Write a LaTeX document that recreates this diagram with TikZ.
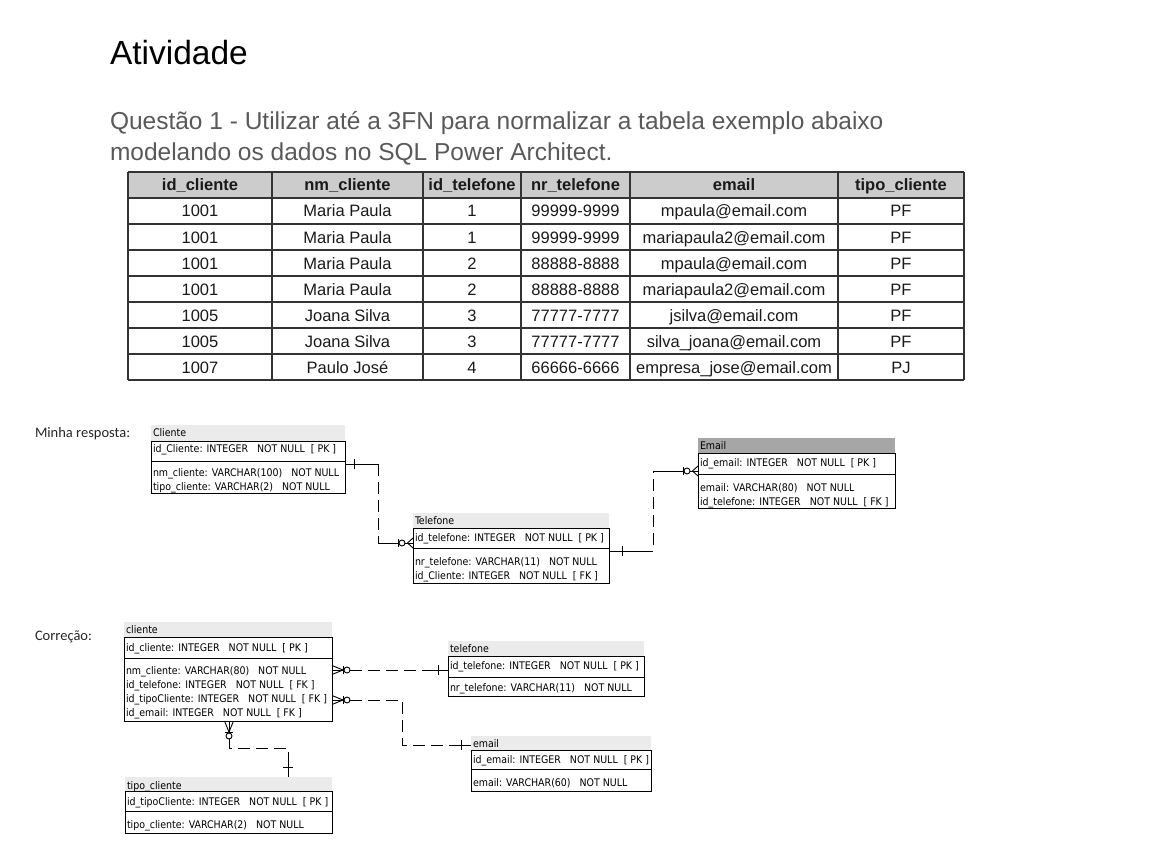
\documentclass[tikz,border=0pt]{standalone}
\usepackage{fontspec}
\setmainfont{Liberation Sans}
\newfontfamily\carlito{Carlito}
\newfontfamily\erfont{DejaVu Sans Condensed}
\usetikzlibrary{calc}
\definecolor{qgray}{HTML}{595959}
\definecolor{hdrgray}{HTML}{CCCCCC}
\definecolor{bandgray}{HTML}{EBEBEB}
\definecolor{bandsel}{HTML}{A6A6A6}
\begin{document}
\begin{tikzpicture}[x=1pt,y=-1pt,
  txt/.style={inner sep=0pt, outer sep=0pt, anchor=west},
  erf/.style={inner sep=0pt, outer sep=0pt, anchor=base west, yshift=-4pt, font=\erfont\fontsize{10.5}{12}\selectfont},
  erbox/.style={draw, line width=0.9pt, inner sep=0pt, outer sep=0pt, anchor=north west},
  rel/.style={line width=0.9pt},
  reld/.style={line width=0.9pt, dash pattern=on 12pt off 6pt},
  tline/.style={line width=1.1pt, black!80},
  cell/.style={inner sep=0pt, anchor=base, yshift=-6pt, font=\fontsize{16.5}{18}\selectfont, text=black!90},
  hcell/.style={cell, font=\fontsize{16.5}{18}\selectfont\bfseries},
  lbl/.style={txt, font=\carlito\fontsize{14.5}{16}\selectfont, text=black!85},
  zmA/.pic={
    \draw[rel] (0,-5) -- (-5.5,0) -- (0,5);
    \draw[rel] (0,0) -- (-16,0);
    \draw[rel,fill=white] (-11,0) circle[radius=3pt];
    \draw[rel] (-14.5,-4) -- (-14.5,4);
  },
  zmB/.pic={
    \draw[rel] (0,-4.5) -- (-11,0) -- (0,4.5);
    \draw[rel] (0,0) -- (-18,0);
    \draw[rel] (-11,-4) -- (-11,4);
    \draw[rel,fill=white] (-15,0) circle[radius=3pt];
  },
  tk/.pic={\draw[rel] (0,-5) -- (0,5);}
]
\useasboundingbox (0,0) rectangle (1152,856);

% ---- title and question
\node[txt, anchor=base west, font=\fontsize{33.5}{40}\selectfont] (title) at (110,65) {Atividade};
\node[txt, anchor=base west, font=\fontsize{24.5}{30}\selectfont, text=qgray] (q1) at (110,130) {Questão 1 - Utilizar até a 3FN para normalizar a tabela exemplo abaixo};
\node[txt, anchor=base west, font=\fontsize{24.5}{30}\selectfont, text=qgray] (q2) at (110,161) {modelando os dados no SQL Power Architect.};

% ---- table
\fill[hdrgray] (128,172) rectangle (964,198);
\foreach \y in {172,198,...,380} \draw[tline] (128,\y) -- (964,\y);
\foreach \x in {128,272,423,521,630,838,964} \draw[tline] (\x,172) -- (\x,380);
\node[hcell] (h1) at (200,185) {id\_cliente};
\node[hcell] (h2) at (347.5,185) {nm\_cliente};
\node[hcell] (h3) at (472,185) {id\_telefone};
\node[hcell] (h4) at (575.5,185) {nr\_telefone};
\node[hcell] (h5) at (734,185) {email};
\node[hcell] (h6) at (901,185) {tipo\_cliente};
\foreach \a/\b/\c/\d/\e/\f [count=\i] in {
  1001/Maria Paula/1/99999-9999/mpaula@email.com/PF,
  1001/Maria Paula/1/99999-9999/mariapaula2@email.com/PF,
  1001/Maria Paula/2/88888-8888/mpaula@email.com/PF,
  1001/Maria Paula/2/88888-8888/mariapaula2@email.com/PF,
  1005/Joana Silva/3/77777-7777/jsilva@email.com/PF,
  1005/Joana Silva/3/77777-7777/silva\_joana@email.com/PF,
  1007/Paulo José/4/66666-6666/empresa\_jose@email.com/PJ}{
  \pgfmathsetmacro{\yy}{185+26*\i}
  \node[cell] (r\i c1) at (200,\yy) {\a};
  \node[cell] (r\i c2) at (347.5,\yy) {\b};
  \node[cell] (r\i c3) at (472,\yy) {\c};
  \node[cell] (r\i c4) at (575.5,\yy) {\d};
  \node[cell] (r\i c5) at (734,\yy) {\e};
  \node[cell] (r\i c6) at (901,\yy) {\f};
}

% ---- labels
\node[lbl] (lresp) at (35,434) {Minha resposta:};
\node[lbl] (lcorr) at (35,637) {Correção:};

% ================= Minha resposta
% Cliente
\fill[bandgray] (151,425) rectangle (345,441);
\node[erf] (cliAt) at (153,432) {Cliente};
\node[erbox, minimum width=194pt, minimum height=52pt] (cliA) at (151,441) {};
\draw[rel] ($(cliA.north west)+(0,20)$) -- ($(cliA.north east)+(0,20)$);
\node[erf] (cliA1) at (153,448) {id\_Cliente: INTEGER\ \ \ NOT NULL\ \ [ PK ]};
\node[erf] (cliA2) at (153,472) {nm\_cliente: VARCHAR(100)\ \ \ NOT NULL};
\node[erf] (cliA3) at (153,486) {tipo\_cliente: VARCHAR(2)\ \ \ NOT NULL};

% Telefone
\fill[bandgray] (413,513) rectangle (609,528);
\node[erf] (telAt) at (415,520) {Telefone};
\node[erbox, minimum width=196pt, minimum height=55pt] (telA) at (413,528) {};
\draw[rel] ($(telA.north west)+(0,20)$) -- ($(telA.north east)+(0,20)$);
\node[erf] (telA1) at (415,537) {id\_telefone: INTEGER\ \ \ NOT NULL\ \ [ PK ]};
\node[erf] (telA2) at (415,561) {nr\_telefone: VARCHAR(11)\ \ \ NOT NULL};
\node[erf] (telA3) at (415,575) {id\_Cliente: INTEGER\ \ \ NOT NULL\ \ [ FK ]};

% Email
\fill[bandsel] (698,438) rectangle (895,453);
\node[erf] (emlAt) at (700,445) {Email};
\node[erbox, minimum width=197pt, minimum height=55pt] (emlA) at (698,453) {};
\draw[rel] ($(emlA.north west)+(0,21)$) -- ($(emlA.north east)+(0,21)$);
\node[erf] (emlA1) at (700,462) {id\_email: INTEGER\ \ \ NOT NULL\ \ [ PK ]};
\node[erf] (emlA2) at (700,487) {email: VARCHAR(80)\ \ \ NOT NULL};
\node[erf] (emlA3) at (700,501) {id\_telefone: INTEGER\ \ \ NOT NULL\ \ [ FK ]};

% Cliente -> Telefone
\coordinate (p1) at ($(cliA.north east)+(0,23)$);
\coordinate (qq1) at ($(telA.north west)+(0,15)$);
\coordinate (m1) at ($(p1)+(33,0)$);
\draw[rel] (p1) -- (m1);
\pic at ($(p1)+(9,0)$) {tk};
\draw[reld] (m1) -- (m1 |- qq1);
\draw[rel] (m1 |- qq1) -- (qq1);
\pic at (qq1) {zmA};

% Telefone -> Email
\coordinate (p2) at ($(telA.north east)+(0,23)$);
\coordinate (qq2) at ($(emlA.north west)+(0,18)$);
\draw[rel] (p2) -- ($(p2)+(32,0)$);
\pic at ($(p2)+(13,0)$) {tk};
\draw[reld] ($(p2)+(32,0)$) -- ($(p2)+(44,0)$) |- ($(qq2)+(-37,0)$);
\draw[rel] ($(qq2)+(-37,0)$) -- (qq2);
\pic at (qq2) {zmA};

% ================= Correção
% cliente
\fill[bandgray] (124,622) rectangle (332,637);
\node[erf] (cliBt) at (126,629) {cliente};
\node[erbox, minimum width=208pt, minimum height=84pt] (cliB) at (124,637) {};
\draw[rel] ($(cliB.north west)+(0,21)$) -- ($(cliB.north east)+(0,21)$);
\node[erf] (cliB1) at (126,647) {id\_cliente: INTEGER\ \ \ NOT NULL\ \ [ PK ]};
\node[erf] (cliB2) at (126,670) {nm\_cliente: VARCHAR(80)\ \ \ NOT NULL};
\node[erf] (cliB3) at (126,684) {id\_telefone: INTEGER\ \ \ NOT NULL\ \ [ FK ]};
\node[erf] (cliB4) at (126,698) {id\_tipoCliente: INTEGER\ \ \ NOT NULL\ \ [ FK ]};
\node[erf] (cliB5) at (126,712) {id\_email: INTEGER\ \ \ NOT NULL\ \ [ FK ]};

% telefone
\fill[bandgray] (448,641) rectangle (644,656);
\node[erf] (telBt) at (450,648) {telefone};
\node[erbox, minimum width=196pt, minimum height=40pt] (telB) at (448,656) {};
\draw[rel] ($(telB.north west)+(0,21)$) -- ($(telB.north east)+(0,21)$);
\node[erf] (telB1) at (450,665) {id\_telefone: INTEGER\ \ \ NOT NULL\ \ [ PK ]};
\node[erf] (telB2) at (450,687) {nr\_telefone: VARCHAR(11)\ \ \ NOT NULL};

% email
\fill[bandgray] (471,736) rectangle (651,750);
\node[erf] (emlBt) at (473,743) {email};
\node[erbox, minimum width=180pt, minimum height=41pt] (emlB) at (471,750) {};
\draw[rel] ($(emlB.north west)+(0,19)$) -- ($(emlB.north east)+(0,19)$);
\node[erf] (emlB1) at (473,759) {id\_email: INTEGER\ \ \ NOT NULL\ \ [ PK ]};
\node[erf] (emlB2) at (473,782) {email: VARCHAR(60)\ \ \ NOT NULL};

% tipo_cliente
\fill[bandgray] (125,777) rectangle (332,791);
\node[erf] (tipBt) at (127,785) {tipo\_cliente};
\node[erbox, minimum width=207pt, minimum height=42pt] (tipB) at (125,791) {};
\draw[rel] ($(tipB.north west)+(0,20)$) -- ($(tipB.north east)+(0,20)$);
\node[erf] (tipB1) at (127,801) {id\_tipoCliente: INTEGER\ \ \ NOT NULL\ \ [ PK ]};
\node[erf] (tipB2) at (127,824) {tipo\_cliente: VARCHAR(2)\ \ \ NOT NULL};

% cliente -> telefone
\coordinate (c1s) at ($(cliB.north east)+(0,33)$);
\coordinate (c1e) at ($(telB.north west)+(0,14)$);
\pic[rotate=180] at (c1s) {zmB};
\draw[reld] ($(c1s)+(18,0)$) -- ($(c1e)+(-18,0)$);
\draw[rel] ($(c1e)+(-18,0)$) -- (c1e);
\pic at ($(c1e)+(-10,0)$) {tk};

% cliente -> email
\coordinate (c2s) at ($(cliB.north east)+(0,63)$);
\coordinate (c2e) at ($(emlB.north west)+(0,-5)$);
\coordinate (c2m) at ($(c2s)+(70,0)$);
\pic[rotate=180] at (c2s) {zmB};
\draw[reld] ($(c2s)+(18,0)$) -- (c2m) -- (c2m |- c2e) -- ($(c2e)+(-15,0)$);
\draw[rel] ($(c2e)+(-15,0)$) -- (c2e);
\pic at ($(c2e)+(-10,0)$) {tk};

% cliente -> tipo_cliente
\coordinate (c3s) at ($(cliB.south west)+(105,0)$);
\coordinate (c3e) at ($(tipB.north west)+(163,-14)$);
\pic[rotate=90] at (c3s) {zmB};
\draw[reld] ($(c3s)+(0,18)$) -- ($(c3s)+(0,27)$) -| ($(c3e)+(0,-20)$);
\draw[rel] ($(c3e)+(0,-20)$) -- (c3e);
\pic[rotate=90] at ($(c3e)+(0,-10)$) {tk};
\end{tikzpicture}
\end{document}
